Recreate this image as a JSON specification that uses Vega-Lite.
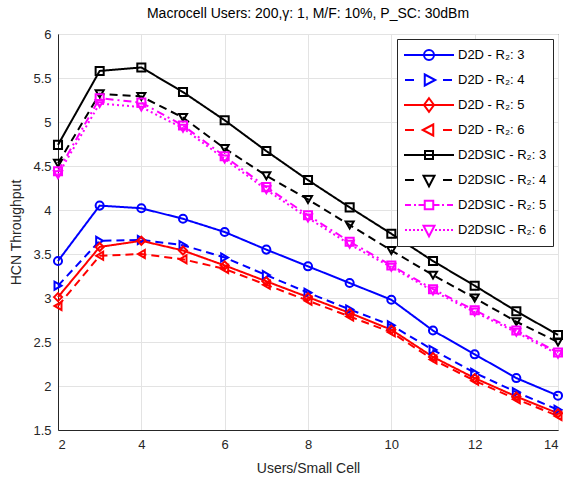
{
  "$schema": "https://vega.github.io/schema/vega-lite/v6.json",
  "autosize": {"type": "none"},
  "width": 500,
  "height": 396,
  "padding": {"left": 58, "top": 34, "right": 5, "bottom": 51},
  "title": {"text": "Macrocell Users: 200,γ: 1, M/F: 10%, P_SC: 30dBm", "fontSize": 14, "fontWeight": "normal", "font": "Liberation Sans", "color": "#000000", "offset": 7, "anchor": "middle"},
  "config": {
    "view": {"stroke": "#262626", "strokeWidth": 1},
    "axis": {"grid": true, "gridColor": "#e3e3e3", "domainColor": "#262626", "ticks": false, "labelFont": "Liberation Sans", "labelFontSize": 13, "labelColor": "#262626", "titleFont": "Liberation Sans", "titleFontSize": 14, "titleFontWeight": "normal", "titleColor": "#262626"}
  },
  "data": {"values": [
    {"x": 2, "y": 3.42, "s": "D2D - R₂: 3"}, {"x": 3, "y": 4.05, "s": "D2D - R₂: 3"}, {"x": 4, "y": 4.02, "s": "D2D - R₂: 3"}, {"x": 5, "y": 3.90, "s": "D2D - R₂: 3"}, {"x": 6, "y": 3.75, "s": "D2D - R₂: 3"}, {"x": 7, "y": 3.55, "s": "D2D - R₂: 3"}, {"x": 8, "y": 3.36, "s": "D2D - R₂: 3"}, {"x": 9, "y": 3.17, "s": "D2D - R₂: 3"}, {"x": 10, "y": 2.98, "s": "D2D - R₂: 3"}, {"x": 11, "y": 2.63, "s": "D2D - R₂: 3"}, {"x": 12, "y": 2.36, "s": "D2D - R₂: 3"}, {"x": 13, "y": 2.09, "s": "D2D - R₂: 3"}, {"x": 14, "y": 1.89, "s": "D2D - R₂: 3"},
    {"x": 2, "y": 3.14, "s": "D2D - R₂: 4"}, {"x": 3, "y": 3.65, "s": "D2D - R₂: 4"}, {"x": 4, "y": 3.66, "s": "D2D - R₂: 4"}, {"x": 5, "y": 3.60, "s": "D2D - R₂: 4"}, {"x": 6, "y": 3.46, "s": "D2D - R₂: 4"}, {"x": 7, "y": 3.26, "s": "D2D - R₂: 4"}, {"x": 8, "y": 3.06, "s": "D2D - R₂: 4"}, {"x": 9, "y": 2.87, "s": "D2D - R₂: 4"}, {"x": 10, "y": 2.69, "s": "D2D - R₂: 4"}, {"x": 11, "y": 2.41, "s": "D2D - R₂: 4"}, {"x": 12, "y": 2.15, "s": "D2D - R₂: 4"}, {"x": 13, "y": 1.93, "s": "D2D - R₂: 4"}, {"x": 14, "y": 1.73, "s": "D2D - R₂: 4"},
    {"x": 2, "y": 3.01, "s": "D2D - R₂: 5"}, {"x": 3, "y": 3.58, "s": "D2D - R₂: 5"}, {"x": 4, "y": 3.65, "s": "D2D - R₂: 5"}, {"x": 5, "y": 3.54, "s": "D2D - R₂: 5"}, {"x": 6, "y": 3.37, "s": "D2D - R₂: 5"}, {"x": 7, "y": 3.19, "s": "D2D - R₂: 5"}, {"x": 8, "y": 3.01, "s": "D2D - R₂: 5"}, {"x": 9, "y": 2.83, "s": "D2D - R₂: 5"}, {"x": 10, "y": 2.64, "s": "D2D - R₂: 5"}, {"x": 11, "y": 2.33, "s": "D2D - R₂: 5"}, {"x": 12, "y": 2.09, "s": "D2D - R₂: 5"}, {"x": 13, "y": 1.88, "s": "D2D - R₂: 5"}, {"x": 14, "y": 1.69, "s": "D2D - R₂: 5"},
    {"x": 2, "y": 2.91, "s": "D2D - R₂: 6"}, {"x": 3, "y": 3.48, "s": "D2D - R₂: 6"}, {"x": 4, "y": 3.50, "s": "D2D - R₂: 6"}, {"x": 5, "y": 3.44, "s": "D2D - R₂: 6"}, {"x": 6, "y": 3.33, "s": "D2D - R₂: 6"}, {"x": 7, "y": 3.15, "s": "D2D - R₂: 6"}, {"x": 8, "y": 2.97, "s": "D2D - R₂: 6"}, {"x": 9, "y": 2.79, "s": "D2D - R₂: 6"}, {"x": 10, "y": 2.61, "s": "D2D - R₂: 6"}, {"x": 11, "y": 2.30, "s": "D2D - R₂: 6"}, {"x": 12, "y": 2.06, "s": "D2D - R₂: 6"}, {"x": 13, "y": 1.85, "s": "D2D - R₂: 6"}, {"x": 14, "y": 1.66, "s": "D2D - R₂: 6"},
    {"x": 2, "y": 4.74, "s": "D2DSIC - R₂: 3"}, {"x": 3, "y": 5.58, "s": "D2DSIC - R₂: 3"}, {"x": 4, "y": 5.62, "s": "D2DSIC - R₂: 3"}, {"x": 5, "y": 5.34, "s": "D2DSIC - R₂: 3"}, {"x": 6, "y": 5.02, "s": "D2DSIC - R₂: 3"}, {"x": 7, "y": 4.67, "s": "D2DSIC - R₂: 3"}, {"x": 8, "y": 4.34, "s": "D2DSIC - R₂: 3"}, {"x": 9, "y": 4.03, "s": "D2DSIC - R₂: 3"}, {"x": 10, "y": 3.73, "s": "D2DSIC - R₂: 3"}, {"x": 11, "y": 3.42, "s": "D2DSIC - R₂: 3"}, {"x": 12, "y": 3.14, "s": "D2DSIC - R₂: 3"}, {"x": 13, "y": 2.85, "s": "D2DSIC - R₂: 3"}, {"x": 14, "y": 2.58, "s": "D2DSIC - R₂: 3"},
    {"x": 2, "y": 4.53, "s": "D2DSIC - R₂: 4"}, {"x": 3, "y": 5.32, "s": "D2DSIC - R₂: 4"}, {"x": 4, "y": 5.29, "s": "D2DSIC - R₂: 4"}, {"x": 5, "y": 5.05, "s": "D2DSIC - R₂: 4"}, {"x": 6, "y": 4.70, "s": "D2DSIC - R₂: 4"}, {"x": 7, "y": 4.39, "s": "D2DSIC - R₂: 4"}, {"x": 8, "y": 4.12, "s": "D2DSIC - R₂: 4"}, {"x": 9, "y": 3.83, "s": "D2DSIC - R₂: 4"}, {"x": 10, "y": 3.54, "s": "D2DSIC - R₂: 4"}, {"x": 11, "y": 3.26, "s": "D2DSIC - R₂: 4"}, {"x": 12, "y": 3.00, "s": "D2DSIC - R₂: 4"}, {"x": 13, "y": 2.73, "s": "D2DSIC - R₂: 4"}, {"x": 14, "y": 2.50, "s": "D2DSIC - R₂: 4"},
    {"x": 2, "y": 4.44, "s": "D2DSIC - R₂: 5"}, {"x": 3, "y": 5.27, "s": "D2DSIC - R₂: 5"}, {"x": 4, "y": 5.22, "s": "D2DSIC - R₂: 5"}, {"x": 5, "y": 4.96, "s": "D2DSIC - R₂: 5"}, {"x": 6, "y": 4.61, "s": "D2DSIC - R₂: 5"}, {"x": 7, "y": 4.26, "s": "D2DSIC - R₂: 5"}, {"x": 8, "y": 3.94, "s": "D2DSIC - R₂: 5"}, {"x": 9, "y": 3.64, "s": "D2DSIC - R₂: 5"}, {"x": 10, "y": 3.37, "s": "D2DSIC - R₂: 5"}, {"x": 11, "y": 3.10, "s": "D2DSIC - R₂: 5"}, {"x": 12, "y": 2.86, "s": "D2DSIC - R₂: 5"}, {"x": 13, "y": 2.63, "s": "D2DSIC - R₂: 5"}, {"x": 14, "y": 2.38, "s": "D2DSIC - R₂: 5"},
    {"x": 2, "y": 4.40, "s": "D2DSIC - R₂: 6"}, {"x": 3, "y": 5.21, "s": "D2DSIC - R₂: 6"}, {"x": 4, "y": 5.17, "s": "D2DSIC - R₂: 6"}, {"x": 5, "y": 4.93, "s": "D2DSIC - R₂: 6"}, {"x": 6, "y": 4.58, "s": "D2DSIC - R₂: 6"}, {"x": 7, "y": 4.23, "s": "D2DSIC - R₂: 6"}, {"x": 8, "y": 3.91, "s": "D2DSIC - R₂: 6"}, {"x": 9, "y": 3.61, "s": "D2DSIC - R₂: 6"}, {"x": 10, "y": 3.35, "s": "D2DSIC - R₂: 6"}, {"x": 11, "y": 3.08, "s": "D2DSIC - R₂: 6"}, {"x": 12, "y": 2.84, "s": "D2DSIC - R₂: 6"}, {"x": 13, "y": 2.61, "s": "D2DSIC - R₂: 6"}, {"x": 14, "y": 2.36, "s": "D2DSIC - R₂: 6"}
  ]},
  "encoding": {
    "x": {"field": "x", "type": "quantitative", "scale": {"domain": [2, 14], "nice": false}, "axis": {"values": [2, 4, 6, 8, 10, 12, 14], "title": "Users/Small Cell", "labelPadding": 8, "titlePadding": 10}},
    "y": {"field": "y", "type": "quantitative", "scale": {"domain": [1.5, 6], "nice": false, "zero": false}, "axis": {"values": [1.5, 2, 2.5, 3, 3.5, 4, 4.5, 5, 5.5, 6], "format": "~g", "title": "HCN Throughput", "labelPadding": 7, "titlePadding": 9}}
  },
  "layer": [
    {
      "mark": {"type": "line", "strokeWidth": 2, "strokeCap": "butt"},
      "encoding": {
        "color": {"field": "s", "type": "nominal", "scale": {"domain": ["D2D - R₂: 3", "D2D - R₂: 4", "D2D - R₂: 5", "D2D - R₂: 6", "D2DSIC - R₂: 3", "D2DSIC - R₂: 4", "D2DSIC - R₂: 5", "D2DSIC - R₂: 6"], "range": ["#0000ff", "#0000ff", "#ff0000", "#ff0000", "#000000", "#000000", "#ff00ff", "#ff00ff"]}, "legend": null},
        "strokeDash": {"field": "s", "type": "nominal", "scale": {"domain": ["D2D - R₂: 3", "D2D - R₂: 4", "D2D - R₂: 5", "D2D - R₂: 6", "D2DSIC - R₂: 3", "D2DSIC - R₂: 4", "D2DSIC - R₂: 5", "D2DSIC - R₂: 6"], "range": [[1, 0], [8, 5], [1, 0], [8, 5], [1, 0], [8, 5], [8, 4, 2, 4], [2, 3]]}, "legend": null}
      }
    },
    {
      "mark": {"type": "point", "filled": false, "strokeWidth": 2, "size": 65, "opacity": 1},
      "encoding": {
        "color": {"field": "s", "type": "nominal", "scale": {"domain": ["D2D - R₂: 3", "D2D - R₂: 4", "D2D - R₂: 5", "D2D - R₂: 6", "D2DSIC - R₂: 3", "D2DSIC - R₂: 4", "D2DSIC - R₂: 5", "D2DSIC - R₂: 6"], "range": ["#0000ff", "#0000ff", "#ff0000", "#ff0000", "#000000", "#000000", "#ff00ff", "#ff00ff"]}, "legend": null},
        "shape": {"field": "s", "type": "nominal", "scale": {"domain": ["D2D - R₂: 3", "D2D - R₂: 4", "D2D - R₂: 5", "D2D - R₂: 6", "D2DSIC - R₂: 3", "D2DSIC - R₂: 4", "D2DSIC - R₂: 5", "D2DSIC - R₂: 6"], "range": ["circle", "triangle-right", "diamond", "triangle-left", "square", "triangle-down", "square", "triangle-down"]}, "legend": null}
      }
    },
    {
      "mark": {"type": "point", "filled": false, "strokeWidth": 2, "size": 2500, "opacity": 0},
      "encoding": {
        "color": {"field": "s", "type": "nominal", "scale": {"domain": ["D2D - R₂: 3", "D2D - R₂: 4", "D2D - R₂: 5", "D2D - R₂: 6", "D2DSIC - R₂: 3", "D2DSIC - R₂: 4", "D2DSIC - R₂: 5", "D2DSIC - R₂: 6"], "range": ["#0000ff", "#0000ff", "#ff0000", "#ff0000", "#000000", "#000000", "#ff00ff", "#ff00ff"]},
          "legend": {"title": null, "orient": "top-right", "offset": 5, "padding": 6, "fillColor": "#ffffff", "strokeColor": "#262626", "symbolSize": 2500, "symbolStrokeWidth": 2, "symbolOpacity": 1, "clipHeight": 20, "rowPadding": 5, "labelOffset": 3, "labelFont": "Liberation Sans", "labelFontSize": 13, "labelColor": "#000000", "labelLimit": 300}},
        "shape": {"field": "s", "type": "nominal", "scale": {"domain": ["D2D - R₂: 3", "D2D - R₂: 4", "D2D - R₂: 5", "D2D - R₂: 6", "D2DSIC - R₂: 3", "D2DSIC - R₂: 4", "D2DSIC - R₂: 5", "D2DSIC - R₂: 6"], "range": [
            "M -1 0 H 1 M -0.2 0 A 0.2 0.2 0 1 0 0.2 0 A 0.2 0.2 0 1 0 -0.2 0 Z",
            "M -0.96 0 H -0.6 M 0.56 0 H 0.92 M -0.17 -0.22 L 0.25 0 L -0.17 0.22 Z",
            "M -1 0 H 1 M 0 -0.27 L 0.2 0 L 0 0.27 L -0.2 0 Z",
            "M -0.96 0 H -0.6 M 0.56 0 H 0.92 M 0.17 -0.22 L -0.25 0 L 0.17 0.22 Z",
            "M -1 0 H 1 M -0.16 -0.16 H 0.16 V 0.16 H -0.16 Z",
            "M -0.96 0 H -0.6 M 0.56 0 H 0.92 M -0.22 -0.17 L 0.22 -0.17 L 0 0.25 Z",
            "M -0.96 0 H -0.72 M -0.6 0 H -0.52 M -0.42 0 H -0.17 M 0.17 0 H 0.42 M 0.52 0 H 0.6 M 0.72 0 H 0.96 M -0.17 -0.17 H 0.17 V 0.17 H -0.17 Z",
            "M -0.96 0 H -0.88 M -0.8 0 H -0.72 M -0.64 0 H -0.56 M -0.48 0 H -0.4 M -0.32 0 H -0.24 M 0.24 0 H 0.32 M 0.4 0 H 0.48 M 0.56 0 H 0.64 M 0.72 0 H 0.8 M 0.88 0 H 0.96 M -0.22 -0.17 L 0.22 -0.17 L 0 0.25 Z"
          ]},
          "legend": {"title": null, "orient": "top-right", "offset": 5, "padding": 6, "fillColor": "#ffffff", "strokeColor": "#262626", "symbolSize": 2500, "symbolStrokeWidth": 2, "symbolOpacity": 1, "clipHeight": 20, "rowPadding": 5, "labelOffset": 3, "labelFont": "Liberation Sans", "labelFontSize": 13, "labelColor": "#000000", "labelLimit": 300}}
      }
    }
  ],
  "resolve": {"scale": {"color": "independent", "shape": "independent", "strokeDash": "independent"}}
}
